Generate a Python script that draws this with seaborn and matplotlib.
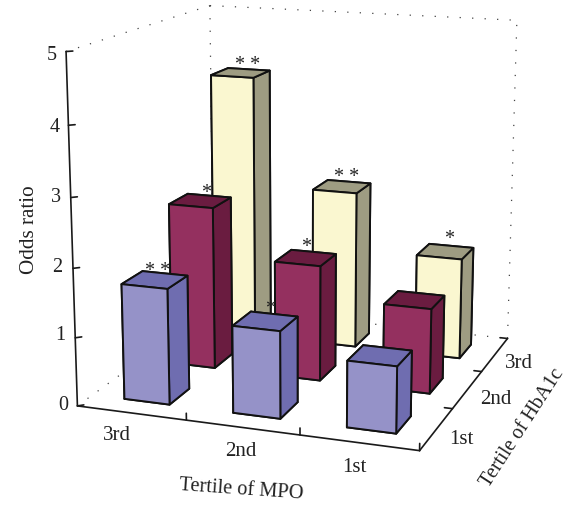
import seaborn as sns
import matplotlib
matplotlib.use("Agg")
import matplotlib.pyplot as plt

mpo_labels = ["3rd", "2nd", "1st"]
hba1c_labels = ["1st", "2nd", "3rd"]
odds_low = [1.69, 1.26, 0.95]
odds_mid = [2.45, 1.73, 1.26]
odds_high = [4.10, 2.43, 1.55]
stars_low = ["* *", "*", ""]
stars_mid = ["*", "*", ""]
stars_high = ["* *", "* *", "*"]
z_ticks = [0, 1, 2, 3, 4, 5]

sns.set_theme(style="white")
plt.rcParams["font.family"] = ["Liberation Serif", "DejaVu Serif"]

W, H = 568, 507
fig = plt.figure(figsize=(W / 100, H / 100), dpi=100)

# camera found by fitting the box corners to the picture
side = 578.8
ax = fig.add_axes([7.36 / W, 3.21 / H, side / W, side / H], projection="3d", computed_zorder=False)
ax.set_xlim(0, 3, view_margin=0)
ax.set_ylim(0, 3, view_margin=0)
ax.set_zlim(0, 5, view_margin=0)
ax.view_init(13.91, -70.415, -0.034)
ax.set_proj_type("persp", focal_length=0.5671)
ax.set_box_aspect((0.9941, 0.9969, 1))
ax.set_axis_off()

# front, top and right face colours for each row
blue = sns.color_palette(["#9592C8", "#6F6DB0", "#6F6DB0"])
maroon = sns.color_palette(["#94305F", "#6A1C40", "#6A1C40"])
cream = sns.color_palette(["#FAF7D0", "#9E9C82", "#9E9C82"])
rows = [(odds_low, blue), (odds_mid, maroon), (odds_high, cream)]

bar_w = 0.42
bar_d = 0.42
off_x = 0.30
off_y = 0.29

# dotted back walls of the box
dot = dict(color="#444444", lw=0.9, ls=(0, (1, 9)), zorder=1)
ax.plot([0, 0], [0, 3], [0, 0], **dot)
ax.plot([0, 3], [3, 3], [0, 0], **dot)
ax.plot([0, 0], [3, 3], [0, 5], **dot)
ax.plot([0, 0], [0, 3], [5, 5], **dot)
ax.plot([0, 3], [3, 3], [5, 5], **dot)
ax.plot([3, 3], [3, 3], [0, 5], **dot)

# solid axes and ticks
sol = dict(color="#1a1a1a", lw=1.2, zorder=2)
ax.plot([0, 0], [0, 0], [0, 5], **sol)
ax.plot([0, 3], [0, 0], [0, 0], **sol)
ax.plot([3, 3], [0, 3], [0, 0], **sol)
for z in z_ticks:
    ax.plot([0, 0.04], [0, 0.04], [z, z], **sol)
for i in range(1, len(mpo_labels) + 1):
    ax.plot([i, i], [0, 0], [0, 0.1], **sol)
for i in range(1, len(hba1c_labels) + 1):
    ax.plot([3, 2.93], [i, i], [0, 0], **sol)

# bars, back row first and left to right so nearer ones cover farther ones
order = 10
for r in [2, 1, 0]:
    vals, pal = rows[r]
    for c in range(3):
        front, top, right = pal
        faces = [top, top, front, top, top, right]
        ax.bar3d(c + off_x, r + off_y, 0, bar_w, bar_d, vals[c], color=faces, shade=False,
                 edgecolor="#111111", linewidth=1.4, zorder=order)
        order += 1


def px_text(x, y, s, **kw):
    fig.text(x / W, 1 - y / H, s, ha="center", va="center", color="#222222", **kw)


for z, x, y in zip(z_ticks, [63, 60, 57, 56, 55, 52], [405, 336, 267, 197, 127, 55]):
    px_text(x, y, str(z), fontsize=14.5)
for s, x, y in zip(mpo_labels, [117, 241, 354], [435, 451, 468]):
    px_text(x, y, s, fontsize=15)
for s, x, y in zip(hba1c_labels, [461, 496, 519], [440, 399, 363]):
    px_text(x, y, s, fontsize=15)
px_text(29, 230, "Odds ratio", fontsize=15.2, rotation=90)
px_text(241, 490, "Tertile of MPO", fontsize=14.7, rotation=-4)
px_text(523, 428, "Tertile of HbA1c", fontsize=14.5, rotation=57)

# significance marks, the glyph sits about 5 px above the centre of its text box
star_x = [[158, 270], [206, 306], [248, 347, 449]]
star_y = [[267, 304], [189, 243], [61, 173, 235]]
for row, xs, ys in zip([stars_low, stars_mid, stars_high], star_x, star_y):
    for s, x, y in zip(row, xs, ys):
        px_text(x, y + 5, s, fontsize=14.5)

fig.savefig("out.png", dpi=100)
